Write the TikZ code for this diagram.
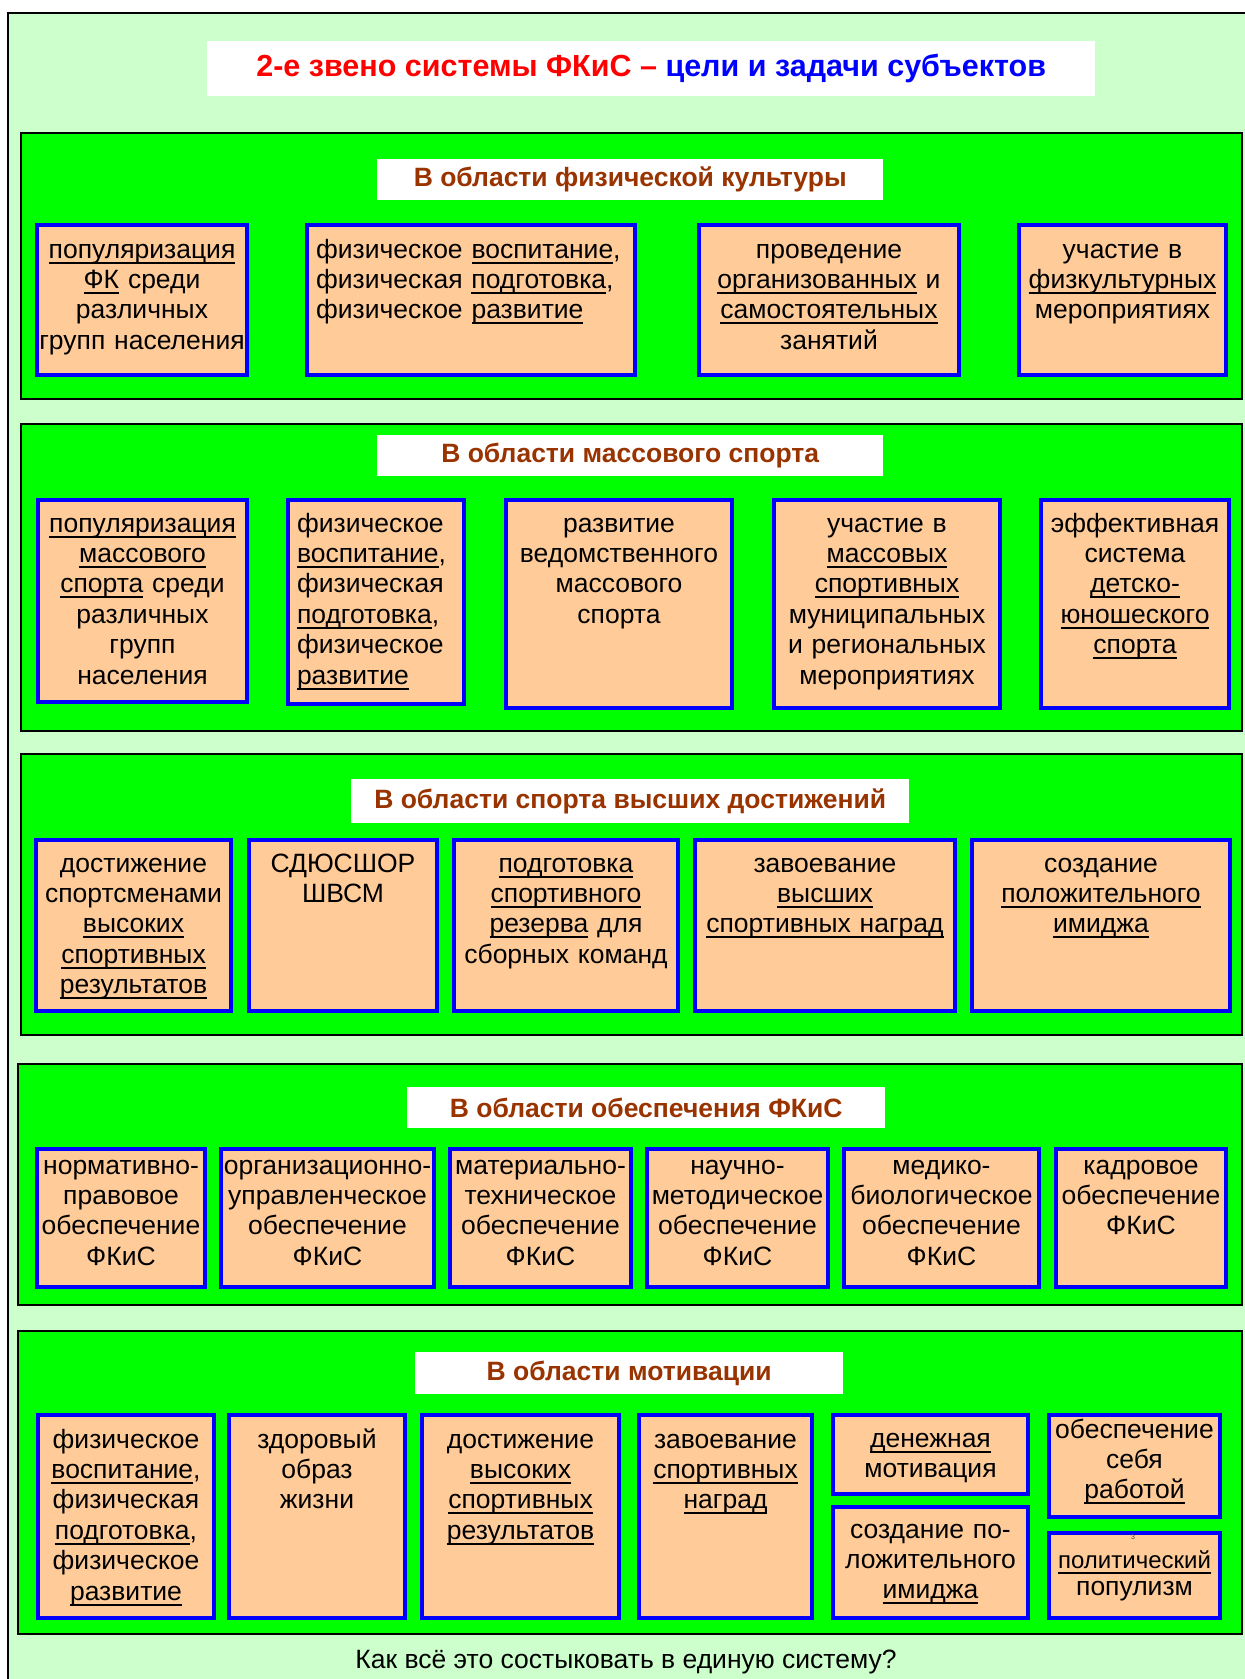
\documentclass[tikz,border=0pt]{standalone}
\usepackage{fontspec}
\setmainfont{Liberation Sans}

\definecolor{bgpale}{HTML}{CCFFCC}
\definecolor{grn}{HTML}{00FF00}
\definecolor{peach}{HTML}{FFCC99}
\definecolor{brn}{HTML}{993300}

\newcommand{\cellfont}{\fontsize{26.5}{30.4}\selectfont}
\newcommand{\headfont}{\fontsize{26.5}{30}\selectfont\bfseries}
\newcommand{\titlefont}{\fontsize{30.5}{34}\selectfont\bfseries}
% underline at a fixed depth
\newsavebox{\undlbox}
\newcommand{\undl}[1]{\leavevmode\sbox{\undlbox}{#1}\rlap{\rule[-5.5pt]{\wd\undlbox}{1.9pt}}\usebox{\undlbox}}

\begin{document}
\begin{tikzpicture}[x=1pt,y=-1pt,
    panel/.style 2 args={
      % The shape:
      rectangle,minimum width=#1,minimum height=#2,anchor=north west,inner sep=0pt,
      % Border
      draw=black,line width=2pt,fill=grn
      },
    head/.style 2 args={
      rectangle,minimum width=#1,minimum height=#2,anchor=north west,inner sep=0pt,
      fill=white,text=brn,font=\headfont
      },
    goal/.style n args={3}{
      % The shape:
      rectangle,anchor=north west,xshift=2pt,yshift=-2pt,inner sep=0pt,
      text width=#1pt-4pt,text height=#3pt-2pt,text depth=#2pt-2pt-#3pt,
      align=center,font=\cellfont,
      % Border
      draw=blue,line width=4pt,fill=peach
      }]
  \useasboundingbox (0,0) rectangle (1245,1679);
  \clip (0,0) rectangle (1245,1679);
  \draw [line width=2pt,fill=bgpale] (8,13) rectangle (1270,1700);

  \node (title) [head={888}{55},text=black,font=\titlefont] at (207,41)
    {\textcolor{red}{2-е звено системы ФКиС –} \textcolor{blue}{цели и задачи субъектов}};

  % physical culture
  \node (p-fk) [panel={1221}{266}] at (20,132) {};
  \node (h-fk) [head={506}{41}] at (377,159) {В области физической культуры};
  \node (fk-pop) [goal={214}{154}{35}] at (33,221)
    {\undl{популяризация}\\ \undl{ФК} среди\\ различных\\ групп населения};
  \node (fk-vos) [goal={332}{154}{35},align=left,inner xsep=9pt,text width=310pt] at (303,221)
    {физическое \undl{воспитание},\\ физическая \undl{подготовка},\\ физическое \undl{развитие}};
  \node (fk-zan) [goal={264}{154}{35}] at (695,221)
    {проведение\\ \undl{организованных} и\\ \undl{самостоятельных}\\ занятий};
  \node (fk-mer) [goal={211}{154}{35}] at (1015,221)
    {участие в\\ \undl{физкультурных}\\ мероприятиях};

  % mass sport
  \node (p-ms) [panel={1221}{307}] at (20,423) {};
  \node (h-ms) [head={506}{41}] at (377,435) {В области массового спорта};
  \node (ms-pop) [goal={213}{206}{34}] at (34,496)
    {\undl{популяризация}\\ \undl{массового}\\ \undl{спорта} среди\\ различных\\ групп\\ населения};
  \node (ms-vos) [goal={180}{208}{34},align=left,inner xsep=9pt,text width=158pt] at (284,496)
    {физическое\\ \undl{воспитание},\\ физическая\\ \undl{подготовка},\\ физическое\\ \undl{развитие}};
  \node (ms-ved) [goal={230}{212}{34}] at (502,496)
    {развитие\\ ведомственного\\ массового\\ спорта};
  \node (ms-mer) [goal={230}{212}{34}] at (770,496)
    {участие в\\ \undl{массовых}\\ \undl{спортивных}\\ муниципальных\\ и региональных\\ мероприятиях};
  \node (ms-dus) [goal={192}{212}{34}] at (1037,496)
    {эффективная\\ система\\ \undl{детско-}\\ \undl{юношеского}\\ \undl{спорта}};

  % high performance sport
  \node (p-svd) [panel={1221}{281}] at (20,753) {};
  \node (h-svd) [head={558}{44}] at (351,779) {В области спорта высших достижений};
  \node (svd-res) [goal={199}{175}{34}] at (32,836)
    {достижение\\ спортсменами\\ \undl{высоких}\\ \undl{спортивных}\\ \undl{результатов}};
  \node (svd-shk) [goal={192}{175}{34}] at (245,836)
    {СДЮСШОР\\ ШВСМ};
  \node (svd-rez) [goal={228}{175}{34}] at (450,836)
    {\undl{подготовка}\\ \undl{спортивного}\\ \undl{резерва} для\\ сборных команд};
  \node (svd-nag) [goal={264}{175}{34}] at (691,836)
    {завоевание\\ \undl{высших}\\ \undl{спортивных наград}};
  \node (svd-im) [goal={262}{175}{34}] at (968,836)
    {создание\\ \undl{положительного}\\ \undl{имиджа}};

  % support
  \node (p-ob) [panel={1224}{241}] at (17,1063) {};
  \node (h-ob) [head={478}{41}] at (407,1087) {В области обеспечения ФКиС};
  \node (ob-pr) [goal={172}{142}{27}] at (33,1145)
    {нормативно-\\ правовое\\ обеспечение\\ ФКиС};
  \node (ob-up) [goal={217}{142}{27}] at (217,1145)
    {организационно-\\ управленческое\\ обеспечение\\ ФКиС};
  \node (ob-mt) [goal={185}{142}{27}] at (446,1145)
    {материально-\\ техническое\\ обеспечение\\ ФКиС};
  \node (ob-nm) [goal={185}{142}{27}] at (643,1145)
    {научно-\\ методическое\\ обеспечение\\ ФКиС};
  \node (ob-mb) [goal={199}{142}{27}] at (840,1145)
    {медико-\\ биологическое\\ обеспечение\\ ФКиС};
  \node (ob-kd) [goal={174}{142}{27}] at (1052,1145)
    {кадровое\\ обеспечение\\ ФКиС};

  % motivation
  \node (p-mot) [panel={1224}{303}] at (17,1330) {};
  \node (h-mot) [head={428}{42}] at (415,1352) {В области мотивации};
  \node (mot-vos) [goal={180}{207}{35}] at (34,1411)
    {физическое\\ \undl{воспитание},\\ физическая\\ \undl{подготовка},\\ физическое\\ \undl{развитие}};
  \node (mot-zoj) [goal={180}{207}{35}] at (225,1411)
    {здоровый\\ образ\\ жизни};
  \node (mot-res) [goal={201}{207}{35}] at (418,1411)
    {достижение\\ \undl{высоких}\\ \undl{спортивных}\\ \undl{результатов}};
  \node (mot-nag) [goal={177}{207}{35}] at (635,1411)
    {завоевание\\ \undl{спортивных}\\ \undl{наград}};
  \node (mot-den) [goal={199}{83}{34}] at (829,1411)
    {\undl{денежная}\\ мотивация};
  \node (mot-im) [goal={199}{115}{33}] at (829,1503)
    {создание по-\\ ложительного\\ \undl{имиджа}};
  \node (mot-rab) [goal={175}{106}{25}] at (1045,1411)
    {обеспечение\\ себя\\ \undl{работой}};
  \node (mot-pop) [goal={175}{89}{37},font=\fontsize{26.5}{27.5}\selectfont] at (1045,1529)
    {{\fontsize{24}{27.5}\selectfont\undl{политический}}\\ популизм};
  \node (mark) [font=\fontsize{7}{8}\selectfont,text=darkgray,inner sep=0pt] at (1133,1537) {3};

  \node (question) [font=\cellfont] at (626,1662) {Как всё это состыковать в единую систему?};
\end{tikzpicture}
\end{document}
